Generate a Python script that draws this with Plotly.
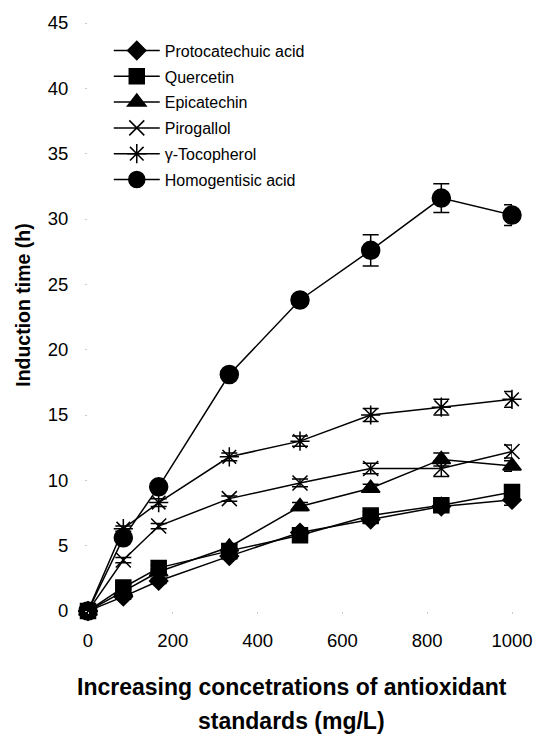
import plotly.graph_objects as go

conc = [0, 83.3, 166.7, 333.3, 500, 666.7, 833.3, 1000]

names = ["Protocatechuic acid", "Quercetin", "Epicatechin", "Pirogallol",
         "γ-Tocopherol", "Homogentisic acid"]

protocatechuic = [0, 1.1, 2.3, 4.2, 6.0, 7.0, 8.0, 8.5]
quercetin = [0, 1.8, 3.3, 4.6, 5.8, 7.3, 8.1, 9.1]
epicatechin = [0, 1.5, 3.0, 4.9, 8.0, 9.4, 11.6, 11.1]
pirogallol = [0, 3.9, 6.5, 8.6, 9.8, 10.9, 10.9, 12.2]
tocopherol = [0, 6.3, 8.3, 11.8, 13.0, 15.0, 15.6, 16.2]
homogentisic = [0, 5.6, 9.5, 18.1, 23.8, 27.6, 31.6, 30.3]

err_proto = [0, 0.2, 0.2, 0.2, 0.2, 0.3, 0.3, 0.4]
err_quer = [0, 0.2, 0.2, 0.2, 0.3, 0.3, 0.3, 0.5]
err_epi = [0, 0.2, 0.2, 0.2, 0.3, 0.3, 0.5, 0.4]
err_piro = [0, 0.2, 0.2, 0.2, 0.3, 0.4, 0.6, 0.5]
err_toco = [0, 0.2, 0.3, 0.3, 0.4, 0.5, 0.6, 0.6]
err_homo = [0, 0.2, 0.3, 0.3, 0.3, 1.2, 1.1, 0.8]

series = [protocatechuic, quercetin, epicatechin, pirogallol, tocopherol, homogentisic]
errors = [err_proto, err_quer, err_epi, err_piro, err_toco, err_homo]
symbols = ["diamond", "square", "triangle-up", "x-thin-open", "asterisk-open", "circle"]
sizes = [14, 15, 16, 15, 16, 18]

xticks = [0, 200, 400, 600, 800, 1000]
yticks = [0, 5, 10, 15, 20, 25, 30, 35, 40, 45]

x_title_1 = "Increasing concetrations of antioxidant"
x_title_2 = "standards (mg/L)"
y_title = "Induction time (h)"

fig = go.Figure()
for i, (n, s, e, sym, sz) in enumerate(zip(names, series, errors, symbols, sizes)):
    fig.add_trace(go.Scatter(
        x=conc, y=s, name=n, mode="lines+markers",
        line=dict(color="black", width=1.5),
        marker=dict(symbol=sym, size=sz, color="black",
                    line=dict(color="black", width=1.5)),
        error_y=dict(type="data", array=e, visible=True, color="black",
                     thickness=1.5, width=8),
        cliponaxis=False, legendgroup=f"g{i}",
    ))

fig.update_layout(
    width=545, height=734,
    margin=dict(l=88, r=24, t=21, b=123),
    paper_bgcolor="white", plot_bgcolor="white",
    font=dict(family="Liberation Sans, Arial, sans-serif", color="black", size=18.5),
    showlegend=True,
    legend=dict(x=0.049, y=0.982, xanchor="left", yanchor="top",
                font=dict(size=16), bgcolor="rgba(0,0,0,0)",
                tracegroupgap=2, itemwidth=46),
    xaxis=dict(range=[0, 1000], tickvals=xticks, showgrid=False, zeroline=False,
               showline=False, ticks="outside", ticklen=2, tickcolor="#cccccc",
               tickfont=dict(size=18.5), ticklabelstandoff=11),
    yaxis=dict(range=[0, 45], tickvals=yticks, showgrid=False, zeroline=False,
               showline=False, ticks="outside", ticklen=2, tickcolor="#cccccc",
               tickfont=dict(size=18.5), ticklabelstandoff=13),
    annotations=[
        dict(text=f"<b>{x_title_1}</b>", xref="paper", yref="paper",
             x=0.48, y=-0.1295, xanchor="center", yanchor="middle",
             showarrow=False, font=dict(size=23)),
        dict(text=f"<b>{x_title_2}</b>", xref="paper", yref="paper",
             x=0.48, y=-0.187, xanchor="center", yanchor="middle",
             showarrow=False, font=dict(size=23)),
        dict(text=f"<b>{y_title}</b>", xref="paper", yref="paper",
             x=-0.152, y=0.52, xanchor="center", yanchor="middle",
             textangle=-90, showarrow=False, font=dict(size=19.5)),
    ],
)

fig.write_html("out.html")
